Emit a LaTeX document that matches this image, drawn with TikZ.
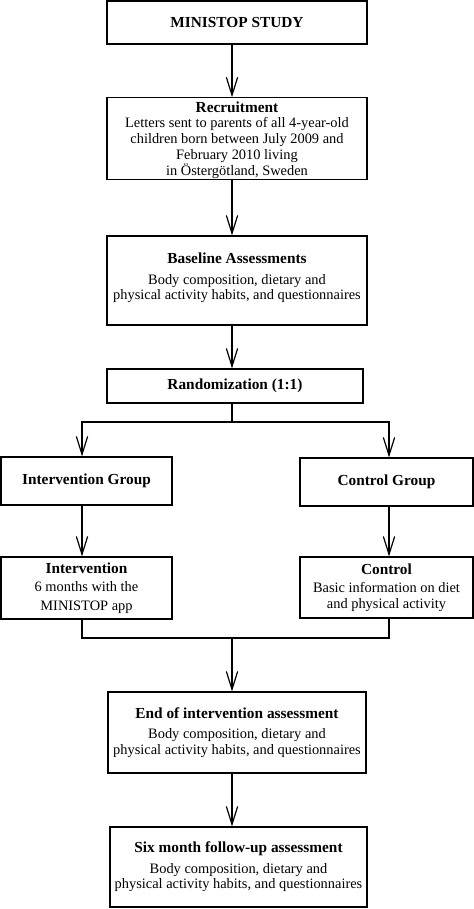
\documentclass[tikz,border=0pt]{standalone}
\usepackage{fontspec}
\setmainfont{Liberation Serif}
\usetikzlibrary{arrows.meta,calc}
\newcommand{\hd}[1]{{\fontsize{11.5}{11.8}\selectfont\bfseries #1}}
\begin{document}
\begin{tikzpicture}[x=0.75pt,y=-0.75pt,
  box/.style={draw,line width=0.9pt,rectangle,inner sep=0pt,align=center,
    font=\fontsize{10.8}{11.8}\selectfont},
  conn/.style={line width=0.9pt},
  arr/.style={conn,-{Straight Barb[length=13.5pt,width=8.5pt,line width=0.9pt]}}]
\useasboundingbox (0,0) rectangle (474,909);
% boxes
\node[box,minimum width=195pt,minimum height=32.25pt] (study) at (237,22.5) {\hd{MINISTOP STUDY}};
\node[box,minimum width=195pt,minimum height=61pt,font=\fontsize{10.8}{11.9}\selectfont] (recruit) at (237,138.5)
  {\rule{0pt}{10.5pt}\hd{Recruitment}\\[-1pt] Letters sent to parents of all 4-year-old\\ children born between July 2009 and\\ February 2010 living\\ in Östergötland, Sweden};
\node[box,minimum width=195pt,minimum height=66.75pt] (base) at (237,280.5)
  {\hd{Baseline Assessments}\\[3.5pt] Body composition, dietary and\\ physical activity habits, and questionnaires\\[-5.7pt]\mbox{}};
\node[box,minimum width=192pt,minimum height=25.5pt] (rand) at (235,386) {\hd{Randomization (1:1)}};
\node[box,minimum width=128.25pt,minimum height=36pt] (igroup) at (86.5,481) {\hd{Intervention Group}};
\node[box,minimum width=129.75pt,minimum height=36pt] (cgroup) at (386.5,482) {\hd{Control Group}};
\node[box,minimum width=128.25pt,minimum height=46.5pt] (inter) at (86.5,588)
  {\hd{Intervention}\\[2pt] 6 months with the\\[2pt] MINISTOP app};
\node[box,minimum width=129.75pt,minimum height=45.75pt] (ctrl) at (386.5,587.5)
  {\hd{Control}\\[2pt] Basic information on diet\\ and physical activity};
\node[box,minimum width=193.5pt,minimum height=60.75pt] (endas) at (237,732.5)
  {\hd{End of intervention assessment}\\[3.5pt] Body composition, dietary and\\ physical activity habits, and questionnaires};
\node[box,minimum width=192.75pt,minimum height=60pt] (six) at (238.5,867)
  {\hd{Six month follow-up assessment}\\[3.5pt] Body composition, dietary and\\ physical activity habits, and questionnaires};
% connector guides
\coordinate (cx) at (232,0);
\coordinate (lx) at (82,0);
\coordinate (rx) at (389,0);
\coordinate (jt) at (232,422);
\coordinate (jb) at (232,638);
% connectors
\draw[arr] (study.south -| cx) -- (recruit.north -| cx);
\draw[arr] (recruit.south -| cx) -- (base.north -| cx);
\draw[arr] (base.south -| cx) -- (rand.north -| cx);
\draw[conn] (rand.south -| cx) -- (jt);
\draw[arr] (jt) -| (igroup.north -| lx);
\draw[arr] (jt) -| (cgroup.north -| rx);
\draw[arr] (igroup.south -| lx) -- (inter.north -| lx);
\draw[arr] (cgroup.south -| rx) -- (ctrl.north -| rx);
\draw[conn] (inter.south -| lx) |- (jb);
\draw[conn] (ctrl.south -| rx) |- (jb);
\draw[arr] (jb) -- (endas.north -| cx);
\draw[arr] (endas.south -| cx) -- (six.north -| cx);
\end{tikzpicture}
\end{document}
